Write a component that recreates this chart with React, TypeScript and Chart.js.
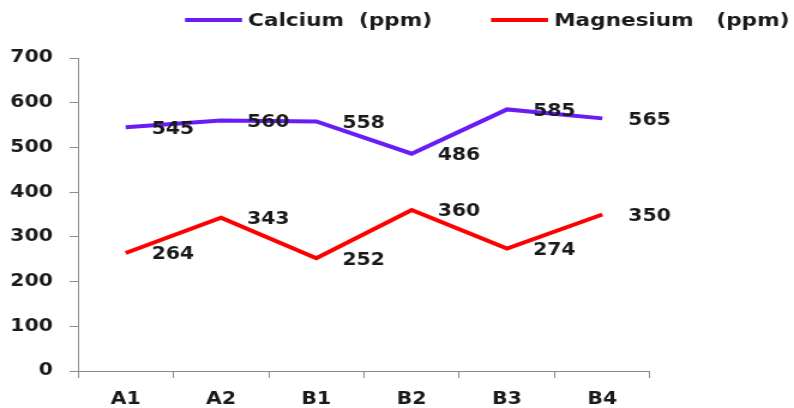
import React, { useEffect, useRef } from "react";
import { Chart, registerables } from "chart.js";

Chart.register(...registerables);

const categories = ["A1", "A2", "B1", "B2", "B3", "B4"];
const calcium = [545, 560, 558, 486, 585, 565];
const magnesium = [264, 343, 252, 360, 274, 350];
const seriesLabels = ["Calcium  (ppm)", "Magnesium   (ppm)"];
const seriesColors = ["#6a1cf6", "#ff0000"];

const FONT = "'DejaVu Sans', Verdana, sans-serif";
const TEXT = "#1a1a1a";
const AXIS = "#8c8c8c";

// The chart is drawn on a narrower canvas and widened horizontally for display
const OUT_W = 794;
const OUT_H = 408;
const CANVAS_W = 662;
const SX = OUT_W / CANVAS_W;

// Value labels drawn to the right of every point
const valueLabels = {
  id: "valueLabels",
  afterDatasetsDraw(chart: any) {
    const ctx = chart.ctx;
    ctx.save();
    ctx.font = `bold 17px ${FONT}`;
    ctx.fillStyle = TEXT;
    ctx.textAlign = "left";
    ctx.textBaseline = "middle";
    chart.data.datasets.forEach((ds: any, i: number) => {
      const meta = chart.getDatasetMeta(i);
      meta.data.forEach((pt: any, j: number) => {
        ctx.fillText(String(ds.data[j]), pt.x + 26 / SX, pt.y + 2);
      });
    });
    ctx.restore();
  },
};

// Line-swatch legend across the top
const topLegend = {
  id: "topLegend",
  afterDraw(chart: any) {
    const ctx = chart.ctx;
    ctx.save();
    ctx.font = `bold 18px ${FONT}`;
    ctx.textBaseline = "middle";
    ctx.textAlign = "left";
    const swatch = 57 / SX;
    const gap = 6 / SX;
    const between = 59 / SX;
    let x = 185 / SX;
    const y = 20;
    chart.data.datasets.forEach((ds: any) => {
      const w = ctx.measureText(ds.label).width;
      ctx.strokeStyle = ds.borderColor;
      ctx.lineWidth = 4;
      ctx.beginPath();
      ctx.moveTo(x, y);
      ctx.lineTo(x + swatch, y);
      ctx.stroke();
      ctx.fillStyle = TEXT;
      ctx.fillText(ds.label, x + swatch + gap, y + 1);
      x += swatch + gap + w + between;
    });
    ctx.restore();
  },
};

export default function App() {
  const ref = useRef<HTMLCanvasElement>(null);

  useEffect(() => {
    if (!ref.current) return;
    const chart = new Chart(ref.current, {
      type: "line",
      data: {
        labels: categories,
        datasets: [
          {
            label: seriesLabels[0],
            data: calcium,
            borderColor: seriesColors[0],
            backgroundColor: seriesColors[0],
            borderWidth: 4,
            pointRadius: 0,
            tension: 0,
          },
          {
            label: seriesLabels[1],
            data: magnesium,
            borderColor: seriesColors[1],
            backgroundColor: seriesColors[1],
            borderWidth: 4,
            pointRadius: 0,
            tension: 0,
          },
        ],
      },
      options: {
        responsive: false,
        animation: false,
        layout: {
          padding: { top: 58, right: CANVAS_W - 650 / SX, left: 0, bottom: 0 },
        },
        plugins: {
          legend: { display: false },
          tooltip: { enabled: false },
        },
        scales: {
          x: {
            offset: true,
            grid: {
              offset: true,
              drawOnChartArea: false,
              drawTicks: true,
              tickLength: 7,
              color: AXIS,
            },
            border: { display: true, color: AXIS, width: 1 },
            ticks: {
              color: TEXT,
              font: { family: FONT, size: 17, weight: "bold" },
              padding: 11,
              maxRotation: 0,
            },
            afterFit(scale: any) {
              scale.height = 37;
            },
          },
          y: {
            min: 0,
            max: 700,
            ticks: {
              stepSize: 100,
              color: TEXT,
              font: { family: FONT, size: 17, weight: "bold" },
              padding: 14,
            },
            grid: {
              drawOnChartArea: false,
              drawTicks: true,
              tickLength: 7,
              color: AXIS,
            },
            border: { display: true, color: AXIS, width: 1 },
            afterFit(scale: any) {
              scale.width = 78 / SX;
            },
          },
        },
      },
      plugins: [valueLabels, topLegend],
    } as any);
    return () => chart.destroy();
  }, []);

  return (
    <div
      style={{
        position: "absolute",
        left: 0,
        top: 0,
        width: OUT_W,
        height: OUT_H,
        background: "#fff",
        overflow: "hidden",
      }}
    >
      <div style={{ transform: `scaleX(${SX})`, transformOrigin: "0 0", width: CANVAS_W, height: OUT_H }}>
        <canvas ref={ref} width={CANVAS_W} height={OUT_H} />
      </div>
    </div>
  );
}
